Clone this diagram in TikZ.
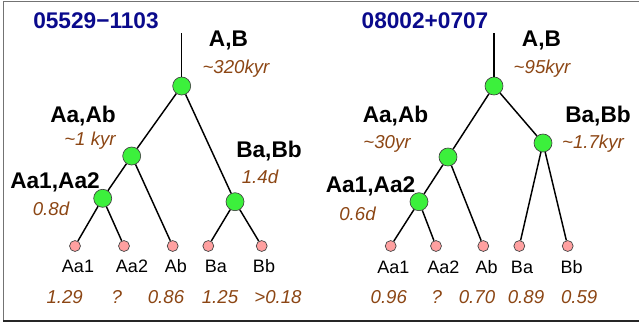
\documentclass[tikz,border=0pt]{standalone}
\usepackage{fontspec}
\setmainfont{Liberation Sans}
\definecolor{titleblue}{RGB}{10,10,140}
\definecolor{periodbrown}{RGB}{140,70,20}
\definecolor{nodegreen}{RGB}{60,240,60}
\definecolor{leafpink}{RGB}{255,160,160}
\tikzset{
  pair/.style={circle,draw=black!75,line width=0.5pt,fill=nodegreen,minimum size=13.5pt,inner sep=0pt},
  star/.style={circle,draw=black!75,line width=0.5pt,fill=leafpink,minimum size=8.2pt,inner sep=0pt},
  branch/.style={line width=1.1pt,black},
  systitle/.style={anchor=base,inner sep=0pt,text=titleblue,font=\fontsize{17}{17}\selectfont\bfseries},
  pairname/.style={anchor=base,inner sep=0pt,font=\fontsize{17}{17}\selectfont\bfseries},
  period/.style={anchor=base,inner sep=0pt,text=periodbrown,font=\fontsize{14}{14}\selectfont\itshape},
  starname/.style={anchor=base,inner sep=0pt,font=\fontsize{13.5}{13.5}\selectfont},
  mass/.style={anchor=base,inner sep=0pt,text=periodbrown,font=\fontsize{14}{14}\selectfont\itshape},
}
\begin{document}
\begin{tikzpicture}[x=0.75pt,y=-0.75pt]
\useasboundingbox (0,0) rectangle (639,329);
% frame
\draw[line width=1pt,black!55] (3.5,321) -- (3.5,1.5) -- (639,1.5);
\draw[line width=1.1pt,black!85] (3,321) -- (639,321);

% ---------- 05529-1103 ----------
\coordinate (tA) at (181.7,33);
\node[pair] (AB1) at (181.7,86) {};
\node[pair] (Aa1n) at (131.7,156) {};
\node[pair] (Aq1) at (102.7,198.3) {};
\node[pair] (Ba1n) at (235,201.7) {};
\node[star] (l1a) at (75,246) {};
\node[star] (l1b) at (124,246) {};
\node[star] (l1c) at (172.7,246) {};
\node[star] (l1d) at (208.3,246) {};
\node[star] (l1e) at (261.7,246) {};
\draw[branch] (tA) -- (AB1);
\draw[branch] (AB1) -- (Aa1n);
\draw[branch] (AB1) -- (Ba1n);
\draw[branch] (Aa1n) -- (Aq1);
\draw[branch] (Aa1n) -- (l1c);
\draw[branch] (Aq1) -- (l1a);
\draw[branch] (Aq1) -- (l1b);
\draw[branch] (Ba1n) -- (l1d);
\draw[branch] (Ba1n) -- (l1e);

\node[systitle] (s1) at (96,28) {05529\textminus 1103};
\node[pairname] (p1ab) at (228.5,46) {A,B};
\node[period] (t1ab) at (236,73) {\char`~320kyr};
\node[pairname] (p1a) at (83,122) {Aa,Ab};
\node[period] (t1a) at (90,145) {\char`~1 kyr};
\node[pairname] (p1b) at (269,157) {Ba,Bb};
\node[period] (t1b) at (260,183) {1.4d};
\node[pairname] (p1q) at (55,188) {Aa1,Aa2};
\node[period] (t1q) at (51,215) {0.8d};
\node[starname] (n1a) at (78,272.5) {Aa1};
\node[starname] (n1b) at (132,272.5) {Aa2};
\node[starname] (n1c) at (176,272.5) {Ab};
\node[starname] (n1d) at (216,272.5) {Ba};
\node[starname] (n1e) at (264,272.5) {Bb};
\node[mass] (m1a) at (64.7,303) {1.29};
\node[mass] (m1b) at (116.7,303) {?};
\node[mass] (m1c) at (166,303) {0.86};
\node[mass] (m1d) at (220,303) {1.25};
\node[mass] (m1e) at (278,303) {>0.18};

% ---------- 08002+0707 ----------
\coordinate (tB) at (494,33);
\node[pair] (AB2) at (494,86) {};
\node[pair] (Aa2n) at (448,157) {};
\node[pair] (Ba2n) at (543,143) {};
\node[pair] (Aq2) at (419,201.7) {};
\node[star] (l2a) at (390.7,246) {};
\node[star] (l2b) at (436,246) {};
\node[star] (l2c) at (483.3,246) {};
\node[star] (l2d) at (519.3,246) {};
\node[star] (l2e) at (567.7,246) {};
\draw[branch] (tB) -- (AB2);
\draw[branch] (AB2) -- (Aa2n);
\draw[branch] (AB2) -- (Ba2n);
\draw[branch] (Aa2n) -- (Aq2);
\draw[branch] (Aa2n) -- (l2c);
\draw[branch] (Aq2) -- (l2a);
\draw[branch] (Aq2) -- (l2b);
\draw[branch] (Ba2n) -- (l2d);
\draw[branch] (Ba2n) -- (l2e);

\node[systitle] (s2) at (425,28) {08002+0707};
\node[pairname] (p2ab) at (541.5,46) {A,B};
\node[period] (t2ab) at (542,73) {\char`~95kyr};
\node[pairname] (p2a) at (395.5,122) {Aa,Ab};
\node[period] (t2a) at (387,148) {\char`~30yr};
\node[pairname] (p2b) at (598,122) {Ba,Bb};
\node[period] (t2b) at (593,148) {\char`~1.7kyr};
\node[pairname] (p2q) at (370.5,192) {Aa1,Aa2};
\node[period] (t2q) at (357.5,220) {0.6d};
\node[starname] (n2a) at (393.3,273) {Aa1};
\node[starname] (n2b) at (443.3,273) {Aa2};
\node[starname] (n2c) at (486.7,273) {Ab};
\node[starname] (n2d) at (522,273) {Ba};
\node[starname] (n2e) at (571.7,273) {Bb};
\node[mass] (m2a) at (388.8,303.5) {0.96};
\node[mass] (m2b) at (436.7,303.5) {?};
\node[mass] (m2c) at (477,303.5) {0.70};
\node[mass] (m2d) at (526,303.5) {0.89};
\node[mass] (m2e) at (579.2,303.5) {0.59};
\end{tikzpicture}
\end{document}
